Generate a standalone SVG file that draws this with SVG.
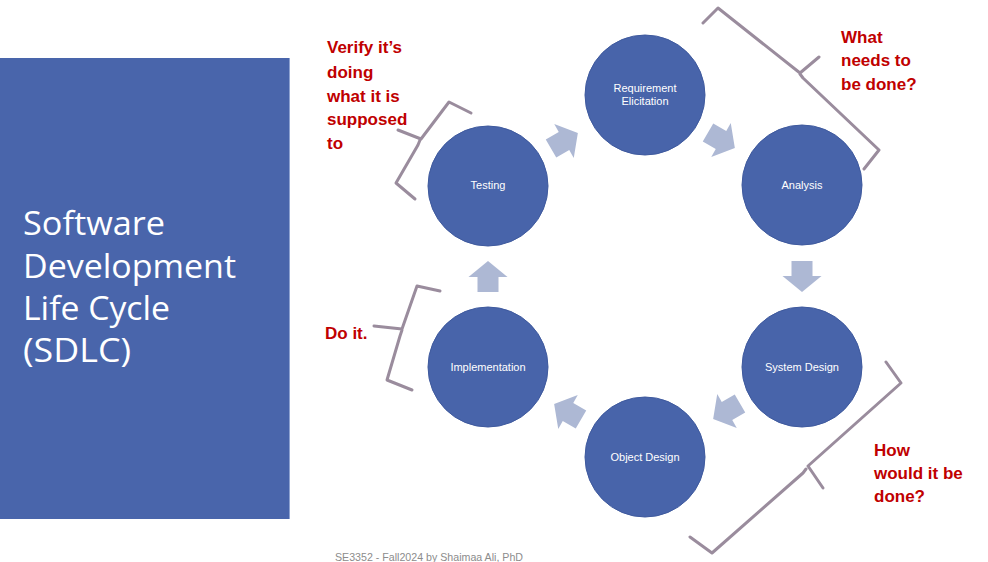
<svg xmlns="http://www.w3.org/2000/svg" width="988" height="562" viewBox="0 0 988 562">
  <defs>
    <style>
      .node circle { fill: #4864aa; stroke: #3f5a9e; stroke-width: 1; }
      .node text { fill: #ffffff; font-family: "Liberation Sans", Arial, sans-serif; font-size: 11px; text-anchor: middle; }
      .flow { fill: #adb8d4; }
      .brace { fill: none; stroke: #9a8c9d; stroke-width: 3; stroke-linejoin: round; stroke-linecap: round; }
      .note { fill: #c00000; font-family: "Liberation Sans", Arial, sans-serif; font-size: 17px; font-weight: bold; }
      .title { fill: #ffffff; font-family: "Open Sans", "Liberation Sans", sans-serif; font-size: 32px; }
      .footer { fill: #8c8c8c; font-family: "Liberation Sans", Arial, sans-serif; font-size: 11px; }
    </style>
    <!-- block arrow pointing along +x, centred on the origin -->
    <polygon id="blockArrow" points="-15,-10.5 0,-10.5 0,-19.5 16,0 0,19.5 0,10.5 -15,10.5"/>
  </defs>

  <rect width="988" height="562" fill="#ffffff"/>

  <!-- title panel -->
  <g id="title-panel">
    <rect x="0" y="58" width="289" height="461" fill="#4965ab"/>
    <line x1="289.5" y1="58" x2="289.5" y2="519" stroke="#8fa3d1" stroke-width="1"/>
    <text class="title" x="23" y="235" textLength="142" lengthAdjust="spacingAndGlyphs">Software</text>
    <text class="title" x="23" y="278" textLength="213" lengthAdjust="spacingAndGlyphs">Development</text>
    <text class="title" x="23" y="320" textLength="147" lengthAdjust="spacingAndGlyphs">Life Cycle</text>
    <text class="title" x="23" y="362" textLength="108" lengthAdjust="spacingAndGlyphs">(SDLC)</text>
  </g>

  <!-- cycle arrows between phases -->
  <g id="connectors">
    <use href="#blockArrow" class="flow" transform="translate(564,141) rotate(-30)"/>
    <use href="#blockArrow" class="flow" transform="translate(721,140) rotate(30)"/>
    <use href="#blockArrow" class="flow" transform="translate(802,276) rotate(90)"/>
    <use href="#blockArrow" class="flow" transform="translate(727,411) rotate(150)"/>
    <use href="#blockArrow" class="flow" transform="translate(568,412) rotate(210)"/>
    <use href="#blockArrow" class="flow" transform="translate(488,277) rotate(-90)"/>
  </g>

  <!-- phases -->
  <g id="requirement-elicitation" class="node">
    <circle cx="645" cy="95" r="60"/>
    <text x="645" y="92">Requirement</text>
    <text x="645" y="105">Elicitation</text>
  </g>
  <g id="analysis" class="node">
    <circle cx="802" cy="185" r="60"/>
    <text x="802" y="189">Analysis</text>
  </g>
  <g id="system-design" class="node">
    <circle cx="802" cy="367" r="60"/>
    <text x="802" y="371">System Design</text>
  </g>
  <g id="object-design" class="node">
    <circle cx="645" cy="457" r="60"/>
    <text x="645" y="461">Object Design</text>
  </g>
  <g id="implementation" class="node">
    <circle cx="488" cy="367" r="60"/>
    <text x="488" y="371">Implementation</text>
  </g>
  <g id="testing" class="node">
    <circle cx="488" cy="186" r="60"/>
    <text x="488" y="189">Testing</text>
  </g>

  <!-- braces grouping phases -->
  <g id="braces">
    <path class="brace" d="M703,23 L718,8 L800,73 L819,57 M800,74 L803,78 L879,150 L864,169"/>
    <path class="brace" d="M471,113 L449,102 L421,139 L398,130 M420,140 L418,145 L396,183 L415,199"/>
    <path class="brace" d="M440,291 L417,286 L402,329 L374,326 M402,330 L400,336 L387,380 L412,390"/>
    <path class="brace" d="M886,362 L901,383 L808,466 L823,488 M806,469 L803,473 L712,553 L690,537"/>
  </g>

  <!-- annotations -->
  <g id="notes">
    <text class="note" x="327" y="53">Verify it’s</text>
    <text class="note" x="327" y="78">doing</text>
    <text class="note" x="327" y="102">what it is</text>
    <text class="note" x="327" y="125">supposed</text>
    <text class="note" x="327" y="149">to</text>
    <text class="note" x="841" y="43">What</text>
    <text class="note" x="841" y="66">needs to</text>
    <text class="note" x="841" y="90">be done?</text>
    <text class="note" x="325" y="339">Do it.</text>
    <text class="note" x="874" y="456">How</text>
    <text class="note" x="874" y="479">would it be</text>
    <text class="note" x="874" y="502">done?</text>
  </g>

  <text class="footer" x="335" y="561" textLength="188" lengthAdjust="spacingAndGlyphs">SE3352 - Fall2024 by Shaimaa Ali, PhD</text>
</svg>
